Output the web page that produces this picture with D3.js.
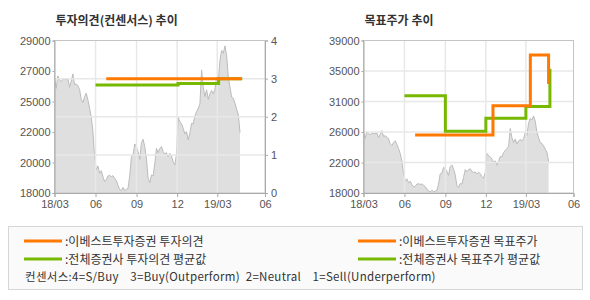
<!DOCTYPE html>
<meta charset="utf-8">
<head>
<style>
  body { margin: 0; background: #fff; }
  svg text { font-family: "Liberation Sans", Arial, sans-serif; fill: #555; }
  svg text.kr { font-family: "Noto Sans CJK KR", sans-serif; fill: #333; }
</style>
</head>
<body>
<div id="chart"></div>
<script src="https://d3js.org/d3.v7.min.js"></script>
<script>

// daily-ish closing price (grey area), spread evenly from priceStart to priceEnd
var priceStart = "2018-03-01", priceEnd = "2019-04-21";
var prices = [26350,25550,26450,26150,26050,26200,26250,26150,26280,25630,26050,26590,25800,25870,25720,25480,
  24760,24520,24950,25200,24710,24110,23460,22430,20620,19660,19950,19420,19610,19180,18820,18940,19230,19270,
  19180,19250,19060,18890,18550,18260,18170,18410,18170,18260,18340,19230,20620,20740,21540,21340,20980,20430,
  21630,21870,21340,20500,19060,18750,19300,19230,20140,21220,20910,21220,21340,20980,20810,20910,20620,20860,
  20670,20260,20020,20810,23460,23150,22980,22670,22260,22430,21830,22310,23030,22980,23560,23870,24110,24430,
  26880,25630,24950,25440,24760,25150,25390,25150,25480,26350,25920,27600,28280,28080,28610,27890,26350,25630,
  24910,24830,24470,24040,23630,22350];

// opinion (consensus 0-4)
var opinionBrokerDates = ["2018-06-25", "2019-04-24"];
var opinionBrokerVals  = [3, 3];
var opinionAvgDates = ["2018-06-01", "2018-12-03", "2019-03-04", "2019-04-26"];
var opinionAvgVals  = [2.83, 2.87, 3.0, 3.0];

// target price
var targetBrokerDates = ["2018-06-25", "2018-12-17", "2019-03-11", "2019-04-21"];
var targetBrokerVals  = [26000, 30000, 37000, 33000];
var targetAvgDates = ["2018-06-01", "2018-09-01", "2018-12-01", "2019-03-01", "2019-04-24"];
var targetAvgVals  = [31400, 26500, 28300, 29900, 35100];

// axes
var xTickDates  = ["2018-03-01", "2018-06-01", "2018-09-01", "2018-12-01", "2019-03-01", "2019-06-16"];
var xTickLabels = ["18/03", "06", "09", "12", "19/03", "06"];
var leftPriceTicks  = [18000, 20200, 22400, 24600, 26800, 29000];
var leftPriceLabels = ["18000", "20000", "22000", "25000", "27000", "29000"];
var opinionTicks = [0, 1, 2, 3, 4];
var rightPriceTicks  = [18000, 22200, 26400, 30600, 34800, 39000];
var rightPriceLabels = ["18000", "22000", "26000", "31000", "35000", "39000"];

var ORANGE = "#ff7800", GREEN = "#77b800";
var parse = d3.timeParse("%Y-%m-%d");

var svg = d3.select("#chart").append("svg")
  .attr("width", 590).attr("height", 300);

var t0 = parse(priceStart), t1 = parse(priceEnd);
var idx = d3.scaleLinear().domain([0, prices.length - 1]).range([t0.getTime(), t1.getTime()]);
var priceData = prices.map(function(p, i) { return { date: new Date(idx(i)), v: p }; });

function pts(dates, vals) {
  return dates.map(function(d, i) { return { date: parse(d), v: vals[i] }; });
}

function drawPanel(opt) {
  var g = svg.append("g");
  var x = d3.scaleTime()
    .domain([parse(xTickDates[0]), parse(xTickDates[xTickDates.length - 1])])
    .range([opt.left, opt.right]);
  var yP = d3.scaleLinear().domain([opt.pMin, opt.pMax]).range([opt.bottom, opt.top]);

  // price area
  g.append("path").datum(priceData)
    .attr("fill", "#dfdfdf")
    .attr("d", d3.area().x(function(d) { return x(d.date); }).y0(opt.bottom).y1(function(d) { return yP(d.v); }));
  g.append("path").datum(priceData)
    .attr("fill", "none").attr("stroke", "#bcbcbc").attr("stroke-width", 1)
    .attr("d", d3.line().x(function(d) { return x(d.date); }).y(function(d) { return yP(d.v); }));

  // grid
  var gy = opt.gridScale;
  g.selectAll(".hg").data(opt.gridVals.slice(1, -1)).enter().append("line")
    .attr("x1", opt.left).attr("x2", opt.right)
    .attr("y1", function(d) { return gy(d); }).attr("y2", function(d) { return gy(d); })
    .attr("stroke", "#e8e8e8").attr("stroke-width", 1.5);
  g.selectAll(".vg").data(xTickDates.slice(1, -1)).enter().append("line")
    .attr("x1", function(d) { return x(parse(d)); }).attr("x2", function(d) { return x(parse(d)); })
    .attr("y1", opt.top).attr("y2", opt.bottom)
    .attr("stroke", "#e8e8e8").attr("stroke-width", 1.5);

  // frame
  g.append("rect").attr("x", opt.left).attr("y", opt.top)
    .attr("width", opt.right - opt.left).attr("height", opt.bottom - opt.top)
    .attr("fill", "none").attr("stroke", "#c4c4c4");

  // series
  opt.series.forEach(function(s) {
    g.append("path").datum(pts(s.dates, s.vals))
      .attr("fill", "none").attr("stroke", s.color).attr("stroke-width", 3)
      .attr("d", d3.line().curve(d3.curveStepAfter)
        .x(function(d) { return x(d.date); }).y(function(d) { return s.scale(d.v); }));
  });

  // bottom axis
  var xa = g.append("g").attr("transform", "translate(0," + opt.bottom + ")")
    .call(d3.axisBottom(x).tickValues(xTickDates.map(parse)).tickSize(4).tickPadding(3)
      .tickFormat(function(d, i) { return xTickLabels[i]; }));
  xa.select(".domain").attr("stroke", "#aaa");
  xa.selectAll(".tick line").attr("stroke", "#aaa");
  xa.selectAll("text").attr("font-size", "11px").attr("fill", "#555");

  // left axis
  var la = g.append("g").attr("transform", "translate(" + opt.left + ",0)")
    .call(d3.axisLeft(yP).tickValues(opt.leftTicks).tickSize(2).tickPadding(2)
      .tickFormat(function(d, i) { return opt.leftLabels[i]; }));
  la.select(".domain").attr("stroke", "#aaa");
  la.selectAll(".tick line").attr("stroke", "#aaa");
  la.selectAll("text").attr("font-size", "11px").attr("fill", "#555");

  if (opt.rightAxis) {
    var ra = g.append("g").attr("transform", "translate(" + opt.right + ",0)")
      .call(d3.axisRight(opt.rightAxis).tickValues(opinionTicks).tickSize(3).tickPadding(3)
        .tickFormat(d3.format("d")));
    ra.select(".domain").attr("stroke", "#aaa");
    ra.selectAll(".tick line").attr("stroke", "#aaa");
    ra.selectAll("text").attr("font-size", "11px").attr("fill", "#555");
  }

  g.append("text").attr("class", "kr").attr("x", opt.left + 1).attr("y", 25)
    .attr("font-size", "12px").attr("font-weight", "bold").text(opt.title);
}

var plotTop = 40.5, plotBottom = 193;
var yOpinion = d3.scaleLinear().domain([0, 4]).range([plotBottom, plotTop]);
var yTargetR = d3.scaleLinear().domain([18000, 39000]).range([plotBottom, plotTop]);

drawPanel({
  left: 54.5, right: 265, top: plotTop, bottom: plotBottom,
  pMin: 18000, pMax: 29000,
  leftTicks: leftPriceTicks, leftLabels: leftPriceLabels,
  gridScale: yOpinion, gridVals: opinionTicks,
  rightAxis: yOpinion,
  title: "투자의견(컨센서스) 추이",
  series: [
    { dates: opinionAvgDates, vals: opinionAvgVals, color: GREEN, scale: yOpinion },
    { dates: opinionBrokerDates, vals: opinionBrokerVals, color: ORANGE, scale: yOpinion }
  ]
});

drawPanel({
  left: 363.5, right: 573.5, top: plotTop, bottom: plotBottom,
  pMin: 18000, pMax: 39000,
  leftTicks: rightPriceTicks, leftLabels: rightPriceLabels,
  gridScale: yTargetR, gridVals: rightPriceTicks,
  rightAxis: null,
  title: "목표주가 추이",
  series: [
    { dates: targetAvgDates, vals: targetAvgVals, color: GREEN, scale: yTargetR },
    { dates: targetBrokerDates, vals: targetBrokerVals, color: ORANGE, scale: yTargetR }
  ]
});

// legend
var lg = svg.append("g");
lg.append("rect").attr("x", 8.5).attr("y", 226.5).attr("width", 574).attr("height", 63)
  .attr("fill", "#fafafa").attr("stroke", "#d6d6d6");
var legendItems = [
  { x: 24, y: 241, color: ORANGE, label: ":이베스트투자증권 투자의견" },
  { x: 24, y: 259, color: GREEN,  label: ":전체증권사 투자의견 평균값" },
  { x: 358, y: 241, color: ORANGE, label: ":이베스트투자증권 목표주가" },
  { x: 358, y: 259, color: GREEN,  label: ":전체증권사 목표주가 평균값" }
];
legendItems.forEach(function(d) {
  lg.append("line").attr("x1", d.x).attr("x2", d.x + 38).attr("y1", d.y).attr("y2", d.y)
    .attr("stroke", d.color).attr("stroke-width", 3);
  lg.append("text").attr("class", "kr").attr("x", d.x + 41).attr("y", d.y + 4.5)
    .attr("font-size", "12px").text(d.label);
});
lg.append("text").attr("class", "kr").attr("x", 25).attr("y", 281)
  .attr("font-size", "11.5px").attr("letter-spacing", "0.3px").style("white-space", "pre")
  .text("컨센서스:4=S/Buy    3=Buy(Outperform)  2=Neutral    1=Sell(Underperform)");

</script>
</body>
